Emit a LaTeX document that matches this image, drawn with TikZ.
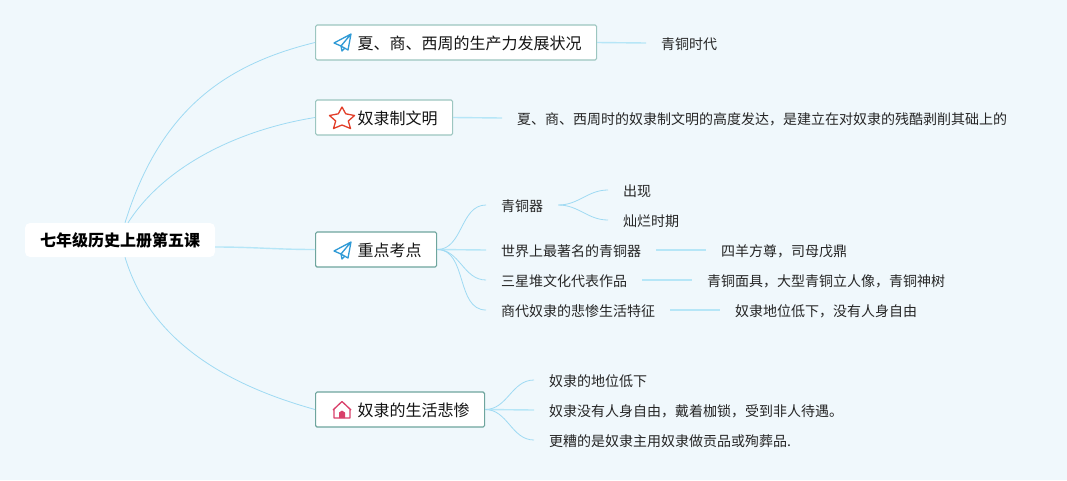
\documentclass[tikz,border=0pt]{standalone}
\usepackage{fontspec}
\setmainfont{Noto Sans CJK SC}
\usetikzlibrary{calc}
\definecolor{pagebg}{HTML}{F0F8FC}
\definecolor{linkblue}{HTML}{9FDAF3}
\definecolor{linkpale}{HTML}{B6E6F7}
\definecolor{boxgreen}{HTML}{9CC6C0}
\definecolor{boxdark}{HTML}{6EA59D}
\definecolor{inkblack}{HTML}{141414}
\definecolor{leafgrey}{HTML}{262626}
\definecolor{planeblue}{HTML}{2F9AD6}
\definecolor{starred}{HTML}{E23D28}
\definecolor{homered}{HTML}{D9406A}

\begin{document}
\begin{tikzpicture}[
  x=1pt, y=-1pt,
  rootbox/.style={fill=white, rounded corners=5pt, minimum height=34pt, inner xsep=15pt,
                  font=\fontsize{16}{18}\selectfont\bfseries, text=black},
  topicbox/.style={anchor=west, fill=white, line width=1.2pt, rounded corners=1.5pt,
                   minimum height=35pt, inner xsep=15pt, text height=15pt, text depth=2pt,
                   font=\fontsize{16}{18}\selectfont, text=inkblack},
  leaf/.style={anchor=west, inner xsep=15pt, inner ysep=2pt, text height=14pt, text depth=2pt,
               font=\fontsize{14}{16}\selectfont, text=leafgrey},
  thinlink/.style={draw=linkblue, line width=0.8pt},
  thicklink/.style={draw=linkpale, line width=1.4pt},
  planeicon/.pic={
    \draw[planeblue, line width=1.3pt, line join=round]
      (-8,1) -- (9,-8) -- (6,8) -- (-1,4) -- cycle
      (9,-8) -- (-1,4) -- (0,9) -- (3,6);
  },
  staricon/.pic={
    \draw[starred, line width=1.3pt, line join=round]
      (0,-11) -- (3.7,-4.2) -- (12.5,-2.5) -- (6.3,3) -- (8.5,10.5) -- (0,7)
      -- (-8.5,10.5) -- (-6.3,3) -- (-12.5,-2.5) -- (-3.7,-4.2) -- cycle;
  },
  homeicon/.pic={
    \draw[homered, line width=1.3pt, line join=round]
      (-9,0) -- (0,-8.5) -- (9,0) (-8,-1) -- (-8,8) -- (8,8) -- (8,-1);
    \fill[homered] (-3,8) -- (-3,2.5) -- (0,0.5) -- (3,2.5) -- (3,8) -- cycle;
  },
]

% Background
\fill[pagebg] (0,0) rectangle (1067,480);

% === Root ===
\node[rootbox] (root) at (120,240) {七年级历史上册第五课};

% === Topics ===
\node[topicbox, draw=boxgreen] (bronzeage) at (315,42.5) {\hspace*{27pt}夏、商、西周的生产力发展状况};
\node[topicbox, draw=boxgreen] (slavery) at (315,117.5) {\hspace*{27pt}奴隶制文明};
\node[topicbox, draw=boxdark] (keypoints) at (315,249.5) {\hspace*{27pt}重点考点};
\node[topicbox, draw=boxdark] (misery) at (315,409.5) {\hspace*{27pt}奴隶的生活悲惨};

% Icons
\pic at (342,42) {planeicon};
\pic at (342,118) {staricon};
\pic at (342,250) {planeicon};
\pic at (342,410) {homeicon};

% Arrows from root to topics
\draw[thinlink] ($(root.north)+(5,0)$) .. controls +(35,-113) and +(-90,22) .. (bronzeage.west);
\draw[thinlink] ($(root.north)+(8,0)$) .. controls +(37,-58) and +(-75,12) .. (slavery.west);
\draw[thicklink] ($(root.east)+(0,7)$) to[out=0, in=180] (keypoints.west);
\draw[thinlink] ($(root.south)+(5,0)$) .. controls +(25,83) and +(-90,-25) .. (misery.west);

% === Row 1: Bronze age ===
\node[leaf] (bronzetime) at (646,43) {青铜时代};
\draw[thicklink] (bronzeage.east) -- (bronzetime.west);

% === Row 2: Slave civilisation ===
\node[leaf] (civilnote) at (502,118) {夏、商、西周时的奴隶制文明的高度发达，是建立在对奴隶的残酷剥削其础上的};
\draw[thicklink] (slavery.east) -- (civilnote.west);

% === Row 3: Key points ===
\node[leaf] (bronzeware) at (486,205) {青铜器};
\node[leaf] (famous) at (486,250) {世界上最著名的青铜器};
\node[leaf] (sanxingdui) at (486,280) {三星堆文化代表作品};
\node[leaf] (shangslave) at (486,310) {商代奴隶的悲惨生活特征};

\draw[thinlink] (keypoints.east) to[out=0, in=180] (bronzeware.west);
\draw[thicklink] (keypoints.east) -- (famous.west);
\draw[thinlink] (keypoints.east) to[out=0, in=180] (sanxingdui.west);
\draw[thinlink] (keypoints.east) to[out=0, in=180] (shangslave.west);

\node[leaf] (appear) at (608,190) {出现};
\node[leaf] (glory) at (608,220) {灿烂时期};
\node[leaf] (fangzun) at (706,250) {四羊方尊，司母戊鼎};
\node[leaf] (bronzemask) at (692,280) {青铜面具，大型青铜立人像，青铜神树};
\node[leaf] (nofreedom) at (720,310) {奴隶地位低下，没有人身自由};

\draw[thinlink] (bronzeware.east) to[out=0, in=180] (appear.west);
\draw[thinlink] (bronzeware.east) to[out=0, in=180] (glory.west);
\draw[thicklink] (famous.east) -- (fangzun.west);
\draw[thicklink] (sanxingdui.east) -- (bronzemask.west);
\draw[thicklink] (shangslave.east) -- (nofreedom.west);

% === Row 4: Miserable life ===
\node[leaf] (lowstatus) at (534,380) {奴隶的地位低下};
\node[leaf] (shackles) at (534,410) {奴隶没有人身自由，戴着枷锁，受到非人待遇。};
\node[leaf] (sacrifice) at (534,440) {更糟的是奴隶主用奴隶做贡品或殉葬品.};

\draw[thinlink] (misery.east) to[out=0, in=180] (lowstatus.west);
\draw[thicklink] (misery.east) -- (shackles.west);
\draw[thinlink] (misery.east) to[out=0, in=180] (sacrifice.west);

\end{tikzpicture}
\end{document}
